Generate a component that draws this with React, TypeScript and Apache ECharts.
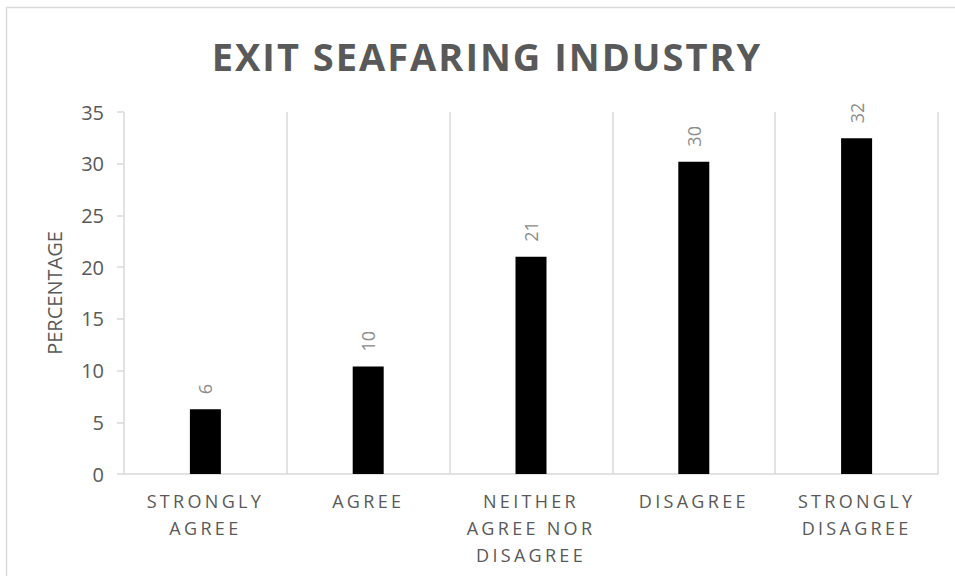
import React, { useEffect, useRef } from "react";
import * as echarts from "echarts";

const titleText = "EXIT SEAFARING INDUSTRY";
const categories = [
  "STRONGLY\nAGREE",
  "AGREE",
  "NEITHER\nAGREE NOR\nDISAGREE",
  "DISAGREE",
  "STRONGLY\nDISAGREE",
];
const values = [6.25, 10.4, 21.0, 30.2, 32.45];
const valueLabels = ["6", "10", "21", "30", "32"];
const yTicks = [0, 5, 10, 15, 20, 25, 30, 35];
const yAxisName = "PERCENTAGE";

const FONT = "'Open Sans'";
const SPACED = "'Open Sans', spacedtitle";
const SPACED_CAT = "'Open Sans', spacedcat";

export default function App() {
  const ref = useRef<HTMLDivElement>(null);
  useEffect(() => {
    if (!ref.current) return;
    const chart = echarts.init(ref.current, undefined, { renderer: "svg" });
    chart.setOption({
      animation: false,
      backgroundColor: "#ffffff",
      graphic: [
        {
          type: "rect",
          shape: { x: 6.5, y: 7.5, width: 1000, height: 700 },
          style: { fill: "none", stroke: "#d9d9d9", lineWidth: 1.5 },
          silent: true,
        },
        {
          type: "text",
          x: 487,
          y: 56,
          style: {
            text: titleText,
            fontFamily: SPACED,
            fontSize: 38,
            fontWeight: "bold",
            fill: "#595959",
            textAlign: "center",
            textVerticalAlign: "middle",
          },
        },
      ],
      grid: { left: 124, right: 17, top: 112, bottom: 102, containLabel: false },
      xAxis: {
        type: "category",
        data: categories,
        boundaryGap: true,
        axisLine: { show: true, lineStyle: { color: "#d9d9d9", width: 1.5 } },
        axisTick: { show: false },
        splitLine: {
          show: true,
          interval: 0,
          lineStyle: { color: "#d9d9d9", width: 1.5 },
        },
        axisLabel: {
          interval: 0,
          margin: 14,
          fontFamily: SPACED_CAT,
          fontSize: 18,
          lineHeight: 26.7,
          color: "#595959",
          align: "center",
        },
      },
      yAxis: {
        type: "value",
        min: 0,
        max: 35,
        interval: 5,
        name: yAxisName,
        nameLocation: "middle",
        nameRotate: 90,
        nameGap: 60,
        nameTextStyle: { fontFamily: FONT, fontSize: 20, color: "#595959" },
        axisLine: { show: false },
        axisTick: {
          show: true,
          length: 7,
          lineStyle: { color: "#d9d9d9", width: 1.5 },
        },
        splitLine: { show: false },
        axisLabel: {
          margin: 20,
          fontFamily: FONT,
          fontSize: 20,
          color: "#595959",
          formatter: (v: number) => (yTicks.includes(v) ? String(v) : ""),
        },
      },
      series: [
        {
          type: "bar",
          data: values,
          barWidth: 31,
          itemStyle: { color: "#000000" },
          label: {
            show: true,
            position: "top",
            rotate: 90,
            align: "left",
            verticalAlign: "middle",
            distance: 15,
            fontFamily: FONT,
            fontSize: 18,
            color: "#8c8c8c",
            formatter: (p: any) => valueLabels[p.dataIndex],
          },
        },
      ],
    });
    return () => chart.dispose();
  }, []);
  return (
    <div>
      <style>{`
        text[style*="spacedtitle"] { letter-spacing: 2px; }
        text[style*="spacedcat"] { letter-spacing: 3.3px; }
      `}</style>
      <div ref={ref} style={{ width: 955, height: 576, position: "absolute", left: 0, top: 0 }} />
    </div>
  );
}
